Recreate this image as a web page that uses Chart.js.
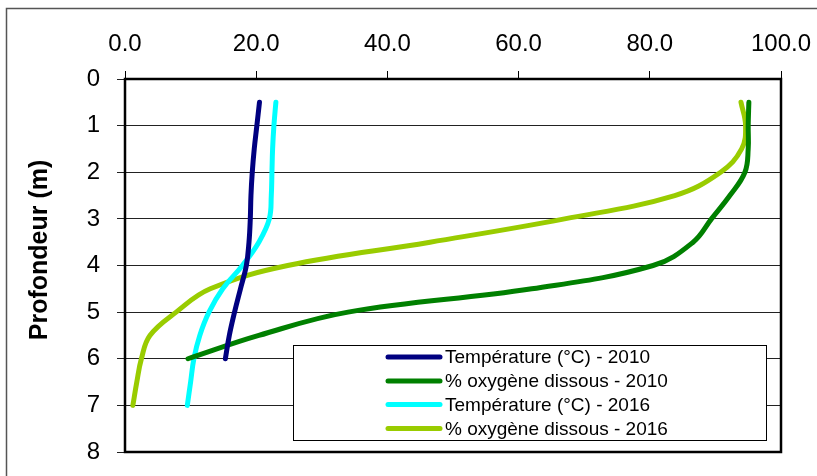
<!DOCTYPE html>
<html>
<head>
<meta charset="utf-8">
<script src="https://cdn.jsdelivr.net/npm/chart.js@4.4.0/dist/chart.umd.min.js"></script>
<style>
  body { margin: 0; background: #fff; }
  #wrap { width: 817px; height: 476px; position: relative; }
</style>
</head>
<body>
<div id="wrap"><canvas id="myChart"></canvas></div>
<script>
// profondeur (m) for each campaign
let depth2010 = [0.5, 1, 1.5, 2, 2.5, 3, 3.5, 4, 4.5, 5, 5.5, 6];
let temp2010 = [20.5, 20.1, 19.7, 19.4, 19.2, 19.1, 18.9, 18.5, 17.6, 16.7, 15.9, 15.3];
let oxy2010 = [95.1, 95.0, 95.0, 94.5, 92.2, 89.4, 86.6, 80.5, 62.0, 34.0, 20.4, 9.6];

let depth2016 = [0.5, 1, 1.5, 2, 2.5, 3, 3.5, 4, 4.5, 5, 5.5, 6, 6.5, 7];
let temp2016 = [23.0, 22.7, 22.5, 22.4, 22.3, 22.0, 20.4, 17.9, 14.9, 12.8, 11.4, 10.5, 10.0, 9.5];
let oxy2016 = [93.9, 94.6, 94.0, 90.8, 83.8, 67.0, 46.5, 24.8, 13.0, 7.8, 3.8, 2.5, 1.8, 1.2];

let seriesNames = ['Température (°C) - 2010', '% oxygène dissous - 2010', 'Température (°C) - 2016', '% oxygène dissous - 2016'];
let seriesColors = ['#000080', '#008000', '#00FFFF', '#99CC00'];

let xTicks = [0, 20, 40, 60, 80, 100];
let yTicks = [0, 1, 2, 3, 4, 5, 6, 7, 8];
let yTitle = 'Profondeur (m)';

const FONT = "Arial, 'Liberation Sans', sans-serif";

function toPoints(vals, depths) {
  let pts = [];
  for (let i in vals) {
    pts.push({ x: vals[i], y: depths[i] });
  }
  return pts;
}

function makeSet(idx, vals, depths) {
  return {
    label: seriesNames[idx],
    data: toPoints(vals, depths),
    borderColor: seriesColors[idx],
    backgroundColor: seriesColors[idx],
    borderWidth: 5,
    borderCapStyle: 'round',
    pointRadius: 0,
    showLine: true,
    tension: 0.4
  };
}

function noPad(scale) {
  scale.paddingLeft = 0;
  scale.paddingRight = 0;
  scale.paddingTop = 0;
  scale.paddingBottom = 0;
}

// frame, y title and the boxed legend sitting inside the plot
const decoPlugin = {
  id: 'deco',
  beforeDraw(chart) {
    let ctx = chart.ctx;
    ctx.save();
    ctx.fillStyle = '#fff';
    ctx.fillRect(0, 0, chart.width, chart.height);
    ctx.strokeStyle = '#555';
    ctx.lineWidth = 1.5;
    ctx.strokeRect(6.5, 8.5, chart.width + 20, chart.height + 20);
    ctx.restore();
  },
  afterDatasetsDraw(chart) {
    let ctx = chart.ctx;
    let a = chart.chartArea;
    ctx.save();
    // plot border
    ctx.strokeStyle = '#000';
    ctx.lineWidth = 2.5;
    ctx.strokeRect(a.left, a.top, a.right - a.left, a.bottom - a.top);

    // y title
    ctx.translate(40, 250);
    ctx.rotate(-Math.PI / 2);
    ctx.fillStyle = '#000';
    ctx.font = 'bold 25px ' + FONT;
    ctx.textAlign = 'center';
    ctx.textBaseline = 'middle';
    ctx.fillText(yTitle, 0, 0);
    ctx.rotate(Math.PI / 2);
    ctx.translate(-40, -250);

    // legend
    let lx = 293.5, ly = 345.5, lw = 473, lh = 95;
    ctx.fillStyle = '#fff';
    ctx.fillRect(lx, ly, lw, lh);
    ctx.strokeStyle = '#000';
    ctx.lineWidth = 1;
    ctx.strokeRect(lx, ly, lw, lh);
    ctx.font = '19px ' + FONT;
    ctx.textAlign = 'left';
    ctx.textBaseline = 'middle';
    let rows = [357, 381, 404.5, 428.5];
    for (let i = 0; i < seriesNames.length; i++) {
      ctx.strokeStyle = seriesColors[i];
      ctx.lineWidth = 5;
      ctx.lineCap = 'round';
      ctx.beginPath();
      ctx.moveTo(388, rows[i]);
      ctx.lineTo(440, rows[i]);
      ctx.stroke();
      ctx.fillStyle = '#000';
      ctx.fillText(seriesNames[i], 445, rows[i] + 1);
    }
    ctx.restore();
  }
};

new Chart(document.getElementById('myChart'), {
  type: 'scatter',
  data: {
    datasets: [
      makeSet(0, temp2010, depth2010),
      makeSet(1, oxy2010, depth2010),
      makeSet(2, temp2016, depth2016),
      makeSet(3, oxy2016, depth2016)
    ]
  },
  options: {
    responsive: true,
    maintainAspectRatio: false,
    animation: false,
    layout: { padding: { left: 0, top: 0, right: 36, bottom: 24 } },
    plugins: {
      legend: { display: false },
      tooltip: { enabled: false }
    },
    scales: {
      x: {
        type: 'linear',
        position: 'top',
        min: 0,
        max: 100,
        afterBuildTicks: function(scale) {
          scale.ticks = xTicks.map(v => ({ value: v }));
        },
        afterFit: function(scale) { scale.height = 79; noPad(scale); },
        ticks: {
          color: '#000',
          font: { family: FONT, size: 24 },
          padding: 12,
          maxRotation: 0,
          callback: function(value) { return Number(value).toFixed(1); }
        },
        grid: {
          drawOnChartArea: false,
          drawTicks: true,
          tickLength: 8,
          color: '#000',
          lineWidth: 1
        },
        border: { display: false }
      },
      y: {
        type: 'linear',
        reverse: true,
        min: 0,
        max: 8,
        afterBuildTicks: function(scale) {
          scale.ticks = yTicks.map(v => ({ value: v }));
        },
        afterFit: function(scale) { scale.width = 125; noPad(scale); },
        ticks: {
          color: '#000',
          font: { family: FONT, size: 24 },
          padding: 17,
          callback: function(value) { return value + ''; }
        },
        grid: {
          color: '#222',
          lineWidth: 1,
          tickLength: 8
        },
        border: { display: false }
      }
    }
  },
  plugins: [decoPlugin]
});
</script>
</body>
</html>
